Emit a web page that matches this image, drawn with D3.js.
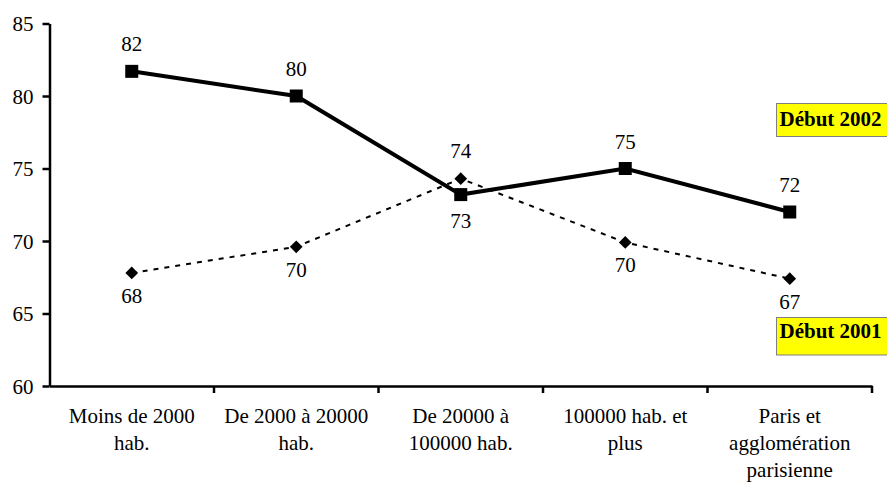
<!DOCTYPE html>
<html>
<head>
<meta charset="utf-8">
<script src="https://cdn.jsdelivr.net/npm/d3@7"></script>
</head>
<body style="margin:0">
<svg width="887" height="484"></svg>
<script>
//Categories on the x axis (size of the town)
const categories = ["Moins de 2000 hab.", "De 2000 à 20000 hab.", "De 20000 à 100000 hab.", "100000 hab. et plus", "Paris et agglomération parisienne"];
//Values for each series
const values2002 = [81.7, 80.0, 73.2, 75.0, 72.0];
const values2001 = [67.8, 69.6, 74.3, 69.9, 67.4];
//Labels shown next to the points
const labels2002 = ["82", "80", "73", "75", "72"];
const labels2001 = ["68", "70", "74", "70", "67"];
const seriesNames = ["Début 2002", "Début 2001"];
const yTicks = [60, 65, 70, 75, 80, 85];

const serif = "'Liberation Serif'";
const fontSize = 21;

let svg = d3.select("svg"),
    plotLeft = 49.5, plotRight = 872, plotTop = 23.5, plotBottom = 386;

let x = d3.scaleBand().domain(categories).range([plotLeft, plotRight]).padding(0);
let y = d3.scaleLinear().domain([60, 85]).range([plotBottom, plotTop]);
let cx = d => x(d) + x.bandwidth() / 2;

//Same look for every text of the chart
function txt(sel) {
  return sel.style("font-family", serif)
            .style("font-size", fontSize + "px")
            .style("fill", "#000");
}

//Y axis
let yg = svg.append("g")
   .attr("transform", "translate(" + plotLeft + ",0)")
   .call(d3.axisLeft(y).tickValues(yTicks).tickSize(7).tickSizeOuter(0).tickPadding(9));
yg.attr("font-family", null).attr("font-size", null);
yg.selectAll("path, line").attr("stroke", "#000").attr("stroke-width", 2.5);
txt(yg.selectAll("text").attr("dy", "0.34em"));

//X axis: line only, ticks drawn at the band edges
let xg = svg.append("g")
   .attr("transform", "translate(0," + plotBottom + ")")
   .call(d3.axisBottom(x).tickSize(0).tickSizeOuter(0).tickFormat(""));
xg.attr("font-family", null).attr("font-size", null);
xg.selectAll(".tick").remove();
xg.select("path").attr("stroke", "#000").attr("stroke-width", 2.5);
xg.selectAll(".edge")
  .data(categories)
  .enter().append("line")
  .attr("x1", d => x(d) + x.bandwidth())
  .attr("x2", d => x(d) + x.bandwidth())
  .attr("y1", 0).attr("y2", 7)
  .attr("stroke", "#000").attr("stroke-width", 2.5);

//Category labels, wrapped in the band
function wrap(text, width) {
  text.each(function() {
    let t = d3.select(this),
        words = t.text().split(" "),
        line = [],
        xx = t.attr("x"),
        tspan = t.text(null).append("tspan").attr("x", xx).attr("dy", 0);
    words.forEach(function(w) {
      line.push(w);
      tspan.text(line.join(" "));
      if (tspan.node().getComputedTextLength() > width && line.length > 1) {
        line.pop();
        tspan.text(line.join(" "));
        line = [w];
        tspan = t.append("tspan").attr("x", xx).attr("dy", 27).text(w);
      }
    });
  });
}
txt(svg.selectAll(".cat")
   .data(categories)
   .enter().append("text")
   .attr("x", d => cx(d))
   .attr("y", 423)
   .attr("text-anchor", "middle")
   .text(d => d))
   .call(wrap, 155);

let line = d3.line().x((d, i) => cx(categories[i])).y(d => y(d));

//Série 2001 (dotted, diamonds)
svg.append("path")
   .datum(values2001)
   .attr("d", line)
   .attr("fill", "none")
   .attr("stroke", "#000")
   .attr("stroke-width", 2)
   .attr("stroke-dasharray", "5,6");

//Série 2002 (solid, squares)
svg.append("path")
   .datum(values2002)
   .attr("d", line)
   .attr("fill", "none")
   .attr("stroke", "#000")
   .attr("stroke-width", 4);

svg.selectAll(".diamond")
   .data(values2001)
   .enter().append("rect")
   .attr("width", 9).attr("height", 9)
   .attr("x", -4.5).attr("y", -4.5)
   .attr("transform", (d, i) => "translate(" + cx(categories[i]) + "," + y(d) + ") rotate(45)")
   .attr("fill", "#000");

svg.selectAll(".square")
   .data(values2002)
   .enter().append("rect")
   .attr("x", (d, i) => cx(categories[i]) - 6.5)
   .attr("y", d => y(d) - 6.5)
   .attr("width", 13).attr("height", 13)
   .attr("fill", "#000");

//Point labels: below when the other series is above
txt(svg.selectAll(".l2002")
   .data(values2002)
   .enter().append("text")
   .attr("text-anchor", "middle")
   .attr("x", (d, i) => cx(categories[i]))
   .attr("y", (d, i) => values2001[i] > d ? y(d) + 33 : y(d) - 20)
   .text((d, i) => labels2002[i]));

txt(svg.selectAll(".l2001")
   .data(values2001)
   .enter().append("text")
   .attr("text-anchor", "middle")
   .attr("x", (d, i) => cx(categories[i]))
   .attr("y", (d, i) => d > values2002[i] ? y(d) - 21 : y(d) + 30)
   .text((d, i) => labels2001[i]));

//Legend boxes next to the last point of each series
let legend = svg.append("g");
let boxes = [{name: seriesNames[0], y0: 103.5, h: 33, base: 126},
             {name: seriesNames[1], y0: 317.5, h: 37.5, base: 337.5}];
boxes.forEach(function(b) {
  legend.append("rect")
        .attr("x", 776.5).attr("y", b.y0)
        .attr("width", 120).attr("height", b.h)
        .attr("fill", "#ffff00")
        .attr("stroke", "#7f7f7f").attr("stroke-width", 1);
  txt(legend.append("text")
        .attr("x", 779.5).attr("y", b.base)
        .style("font-weight", "bold")
        .text(b.name));
});
</script>
</body>
</html>
